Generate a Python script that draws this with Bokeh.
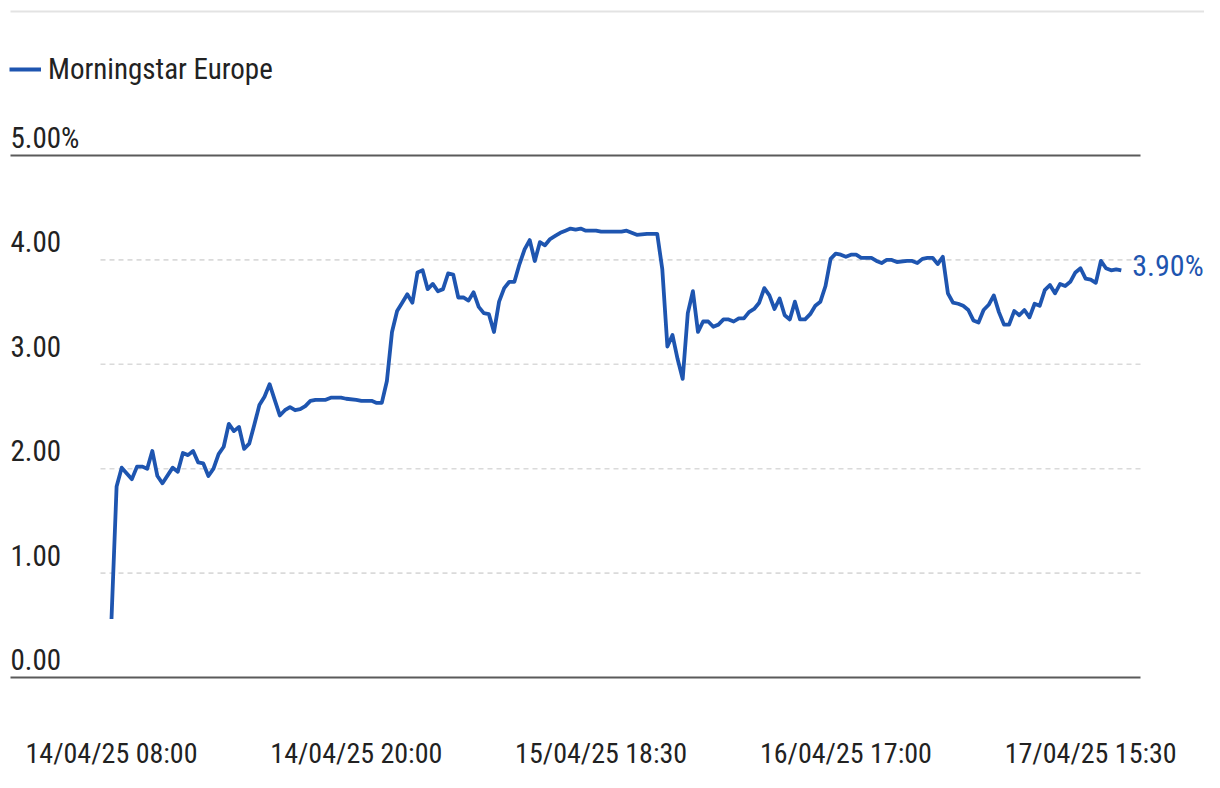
from bokeh.plotting import figure
from bokeh.models import Range1d, FixedTicker, Legend, LegendItem, ColumnDataSource
from bokeh.embed import file_html
from bokeh.resources import INLINE
from bokeh.core.properties import value

# ---------------- data ----------------
series_name = "Morningstar Europe"
steps = [0, 1, 2, 4, 5, 6, 7, 8, 9, 10, 12, 13, 14, 15, 16, 17, 18, 19, 20, 21,
         22, 23, 24, 25, 26, 27, 28, 29, 30, 31, 32, 33, 34, 35, 36, 37, 38, 39, 40, 42,
         43, 45, 46, 48, 49, 50, 51, 52, 53, 54, 55, 56, 57, 58, 59, 60, 61, 62, 63, 64,
         65, 66, 67, 68, 69, 70, 71, 72, 73, 74, 75, 76, 77, 78, 79, 80, 81, 82, 83, 84,
         85, 86, 87, 88, 89, 90, 91, 92, 93, 95, 96, 97, 98, 100, 101, 103, 105, 106, 107, 108,
         109, 110, 111, 112, 113, 114, 115, 116, 117, 118, 119, 120, 121, 122, 123, 124, 125, 126, 127, 128,
         129, 130, 131, 132, 133, 134, 135, 136, 137, 138, 139, 140, 141, 142, 143, 144, 145, 146, 147, 149,
         150, 151, 152, 153, 154, 156, 157, 158, 159, 160, 161, 162, 163, 164, 165, 166, 167, 168, 169, 170,
         171, 172, 173, 174, 175, 176, 177, 178, 179, 180, 181, 182, 183, 184, 185, 186, 187, 188, 189, 190,
         191, 192, 193, 194, 195, 196, 197, 198]
returns = [0.56, 1.83, 2.01, 1.90, 2.02, 2.02, 2.00, 2.17, 1.93, 1.86, 2.01, 1.97, 2.15, 2.13, 2.17, 2.06, 2.05, 1.93, 2.00, 2.14,
           2.21, 2.43, 2.36, 2.40, 2.19, 2.24, 2.42, 2.61, 2.69, 2.81, 2.66, 2.51, 2.56, 2.59, 2.56, 2.57, 2.60, 2.65, 2.66, 2.66,
           2.68, 2.68, 2.67, 2.66, 2.65, 2.65, 2.65, 2.63, 2.63, 2.84, 3.31, 3.51, 3.59, 3.67, 3.59, 3.88, 3.90, 3.72, 3.77, 3.70,
           3.72, 3.87, 3.86, 3.64, 3.64, 3.61, 3.69, 3.55, 3.49, 3.48, 3.31, 3.60, 3.73, 3.79, 3.79, 3.96, 4.10, 4.19, 3.99, 4.17,
           4.14, 4.20, 4.23, 4.26, 4.28, 4.30, 4.29, 4.30, 4.28, 4.28, 4.27, 4.27, 4.27, 4.27, 4.28, 4.24, 4.25, 4.25, 4.25, 3.91,
           3.17, 3.28, 3.05, 2.86, 3.49, 3.70, 3.31, 3.41, 3.41, 3.36, 3.38, 3.43, 3.43, 3.41, 3.44, 3.44, 3.50, 3.53, 3.59, 3.73,
           3.66, 3.53, 3.63, 3.47, 3.43, 3.60, 3.43, 3.43, 3.48, 3.56, 3.60, 3.75, 4.01, 4.06, 4.05, 4.03, 4.05, 4.05, 4.02, 4.02,
           3.99, 3.97, 4.00, 4.00, 3.98, 3.99, 3.99, 3.97, 4.01, 4.02, 4.02, 3.96, 4.03, 3.68, 3.59, 3.58, 3.56, 3.52, 3.42, 3.40,
           3.52, 3.57, 3.66, 3.50, 3.38, 3.38, 3.51, 3.47, 3.52, 3.45, 3.58, 3.56, 3.71, 3.76, 3.68, 3.77, 3.75, 3.79, 3.88, 3.92,
           3.82, 3.81, 3.78, 3.99, 3.92, 3.90, 3.91, 3.90]
x_tick_steps = [0, 48, 96, 144, 192]
x_tick_labels = ["14/04/25 08:00", "14/04/25 20:00", "15/04/25 18:30", "16/04/25 17:00", "17/04/25 15:30"]
y_ticks = [0, 1, 2, 3, 4, 5]
y_tick_labels = ["0.00", "1.00", "2.00", "3.00", "4.00", "5.00%"]
last_label = "3.90%"

# ---------------- layout ----------------
W, H = 1204, 772
BOTTOM = 85
PX_STEP = 5.1          # pixels per step
X0_PX = 111            # x pixel of step 0
PX_UNIT = 104.4        # pixels per 1 %
Y0_PX = 677            # y pixel of 0 %
FRAME_H = H - BOTTOM


def xd(px):
    return (px - X0_PX) / PX_STEP


def yd(py):
    return (Y0_PX - py) / PX_UNIT


FONT = "'Liberation Sans Narrow', 'Roboto Condensed', 'DejaVu Sans Condensed', Roboto, sans-serif"
BLUE = "#1E55B0"
TEXT = "#222222"

p = figure(width=W, height=H, output_backend="svg", toolbar_location=None,
           x_range=Range1d(xd(0), xd(W)),
           y_range=Range1d(yd(FRAME_H), yd(0)),
           y_axis_location=None, min_border_left=0, min_border_right=0,
           min_border_top=0, min_border_bottom=BOTTOM)
p.outline_line_color = None
p.grid.visible = False
p.background_fill_color = "white"
p.border_fill_color = "white"

# top separator
p.segment(x0=xd(10), x1=xd(1230), y0=yd(11), y1=yd(11), line_color="#e3e3e3", line_width=2)

# grid lines
dashed = [t for t in y_ticks if t not in (0, 5)]
p.segment(x0=[xd(100)] * len(dashed), x1=[xd(1140)] * len(dashed), y0=dashed, y1=dashed,
          line_color="#dadada", line_width=1.6, line_dash="5 4")
solid = [0, 5]
p.segment(x0=[xd(10)] * 2, x1=[xd(1140)] * 2, y0=solid, y1=solid,
          line_color="#5a5a5a", line_width=2)

# y labels
ysrc = ColumnDataSource(dict(x=[xd(10)] * len(y_ticks), y=y_ticks, text=y_tick_labels))
p.text(x="x", y="y", text="text", source=ysrc, text_font=value(FONT), text_font_size="29px",
       text_color=TEXT, text_align="left", text_baseline="alphabetic", y_offset=-18)

# main line
src = ColumnDataSource(dict(x=steps, y=returns))
r = p.line(x="x", y="y", source=src, line_color=BLUE, line_width=3.8, line_join="round")

# last value label
p.text(x=[steps[-1]], y=[returns[-1]], text=[last_label], text_font=value(FONT),
       text_font_size="30px", text_color=BLUE, text_align="left", text_baseline="middle",
       x_offset=11, y_offset=-5)

# x axis
ax = p.xaxis[0]
ax.ticker = FixedTicker(ticks=x_tick_steps)
ax.major_label_overrides = {s: l for s, l in zip(x_tick_steps, x_tick_labels)}
ax.axis_line_color = None
ax.major_tick_line_color = None
ax.minor_tick_line_color = None
ax.major_label_standoff = 43
ax.major_label_text_font = FONT
ax.major_label_text_font_size = "28px"
ax.major_label_text_color = TEXT

# legend
legend = Legend(items=[LegendItem(label=series_name, renderers=[r])], location=(9, FRAME_H - 86),
                glyph_width=32, glyph_height=20, label_standoff=7, padding=0, margin=0,
                spacing=0, border_line_alpha=0, background_fill_alpha=0,
                label_text_font=FONT, label_text_font_size="29px", label_text_color=TEXT)
p.add_layout(legend)

open("out.html", "w").write(file_html(p, INLINE))
